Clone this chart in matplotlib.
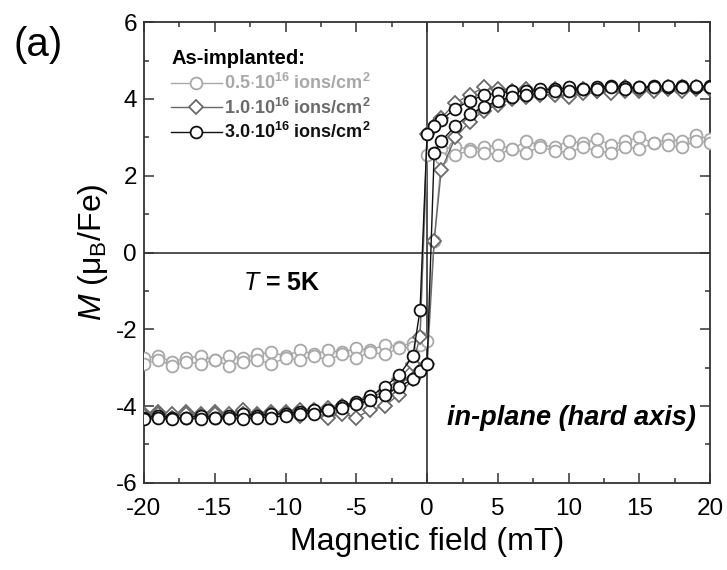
import matplotlib
matplotlib.use("Agg")
import matplotlib.pyplot as plt
from matplotlib.ticker import MultipleLocator

plt.rcParams['font.family'] = ['Liberation Sans', 'DejaVu Sans']
plt.rcParams['mathtext.fontset'] = 'custom'
plt.rcParams['mathtext.rm'] = 'Liberation Sans'
plt.rcParams['mathtext.it'] = 'Liberation Sans:italic'
plt.rcParams['mathtext.bf'] = 'Liberation Sans:bold'
plt.rcParams['mathtext.default'] = 'regular'
plt.rcParams['axes.unicode_minus'] = False

# field sweep: down from +20 mT, then back up from -20 mT
field_down = [20, 19, 18, 17, 16, 15, 14, 13, 12, 11, 10, 9, 8, 7, 6, 5, 4, 3, 2, 1,
              0.5, 0, -0.5, -1, -2, -3, -4, -5, -6, -7, -8, -9, -10, -11, -12, -13,
              -14, -15, -16, -17, -18, -19, -20]
field_up = [-20, -19, -18, -17, -16, -15, -14, -13, -12, -11, -10, -9, -8, -7, -6, -5,
            -4, -3, -2, -1, -0.5, 0, 0.5, 1, 2, 3, 4, 5, 6, 7, 8, 9, 10, 11, 12, 13,
            14, 15, 16, 17, 18, 19, 20]

# 0.5e16 ions/cm2
m05_down = [2.95, 3.05, 2.9, 2.95, 2.85, 3.0, 2.9, 2.8, 2.95, 2.85, 2.9, 2.75, 2.8, 2.9,
            2.7, 2.8, 2.75, 2.7, 2.75, 2.7, 2.6, 2.55, -2.2, -2.35, -2.45, -2.4, -2.55,
            -2.5, -2.6, -2.55, -2.65, -2.55, -2.7, -2.6, -2.65, -2.75, -2.7, -2.8, -2.7,
            -2.75, -2.85, -2.7, -2.75]
m05_up = [-2.9, -2.8, -2.95, -2.85, -2.9, -2.8, -2.95, -2.85, -2.8, -2.9, -2.75, -2.8,
          -2.7, -2.8, -2.65, -2.75, -2.6, -2.65, -2.5, -2.45, -2.4, -2.3, 0.3, 2.45,
          2.55, 2.65, 2.6, 2.55, 2.7, 2.6, 2.75, 2.65, 2.6, 2.75, 2.65, 2.6, 2.75, 2.7,
          2.85, 2.8, 2.75, 2.9, 2.85]

# 1.0e16 ions/cm2
m10_down = [4.25, 4.3, 4.2, 4.3, 4.25, 4.2, 4.3, 4.25, 4.2, 4.25, 4.2, 4.25, 4.2, 4.25,
            4.2, 4.25, 4.3, 4.1, 3.9, 3.5, 3.3, 3.1, -2.2, -2.9, -3.3, -3.6, -3.8, -3.95,
            -4.0, -4.05, -4.1, -4.1, -4.15, -4.15, -4.2, -4.1, -4.2, -4.15, -4.2, -4.15,
            -4.2, -4.15, -4.2]
m10_up = [-4.25, -4.2, -4.3, -4.2, -4.25, -4.2, -4.3, -4.2, -4.25, -4.2, -4.2, -4.25,
          -4.15, -4.3, -4.2, -4.3, -4.1, -4.0, -3.7, -3.3, -3.1, -2.9, 0.3, 2.15, 3.0,
          3.4, 3.7, 3.85, 4.0, 4.05, 4.1, 4.1, 4.05, 4.15, 4.2, 4.15, 4.2, 4.25, 4.2,
          4.25, 4.3, 4.25, 4.3]

# 3.0e16 ions/cm2
m30_down = [4.35, 4.3, 4.35, 4.3, 4.35, 4.3, 4.3, 4.35, 4.3, 4.25, 4.3, 4.25, 4.25, 4.2,
            4.2, 4.15, 4.1, 3.95, 3.75, 3.45, 3.3, 3.1, -1.5, -2.7, -3.2, -3.5, -3.75,
            -3.9, -4.0, -4.1, -4.1, -4.15, -4.2, -4.2, -4.25, -4.2, -4.25, -4.3, -4.25,
            -4.3, -4.3, -4.25, -4.3]
m30_up = [-4.35, -4.3, -4.35, -4.3, -4.35, -4.3, -4.3, -4.35, -4.3, -4.3, -4.25, -4.2,
          -4.2, -4.1, -4.05, -3.95, -3.85, -3.7, -3.5, -3.3, -3.1, -2.9, 2.6, 2.9, 3.3,
          3.6, 3.8, 3.95, 4.05, 4.1, 4.15, 4.2, 4.2, 4.25, 4.25, 4.3, 4.25, 4.3, 4.3,
          4.35, 4.3, 4.35, 4.3]

labels = [r'0.5$\cdot$10$^{16}$ ions/cm$^{2}$',
          r'1.0$\cdot$10$^{16}$ ions/cm$^{2}$',
          r'3.0$\cdot$10$^{16}$ ions/cm$^{2}$']
colors = ['#a8a8a8', '#6a6a6a', '#111111']
markers = ['o', 'D', 'o']
series = [(m05_down, m05_up), (m10_down, m10_up), (m30_down, m30_up)]

fig = plt.figure(figsize=(7.27, 5.70), dpi=100)
ax = fig.add_axes([0.198, 0.153, 0.779, 0.808])

ax.axhline(0, color='#222222', lw=1.1, zorder=1)
ax.axvline(0, color='#222222', lw=1.1, zorder=1)

for (down, up), lab, c, mk in zip(series, labels, colors, markers):
    ax.plot(field_down + field_up, down + up, color=c, marker=mk,
            markersize=8.5 if mk == 'o' else 7.5, markerfacecolor='white',
            markeredgecolor=c, markeredgewidth=1.3, lw=1.0, label=lab, zorder=3)

ax.set_xlim(-20, 20)
ax.set_ylim(-6, 6)
ax.xaxis.set_major_locator(MultipleLocator(5))
ax.xaxis.set_minor_locator(MultipleLocator(2.5))
ax.yaxis.set_major_locator(MultipleLocator(2))
ax.yaxis.set_minor_locator(MultipleLocator(1))
ax.tick_params(which='both', direction='in', top=True, right=True, labelsize=17.5,
               width=1.1, color='#333333')
ax.tick_params(axis='x', pad=11)
ax.tick_params(axis='y', pad=5)
ax.tick_params(which='major', length=7)
ax.tick_params(which='minor', length=3.5)
for s in ax.spines.values():
    s.set_linewidth(1.3)
    s.set_color('#333333')

ax.set_xlabel('Magnetic field (mT)', fontsize=23, labelpad=5)
ax.set_ylabel(r'$\it{M}$ ($\mu_{B}$/Fe)', fontsize=23, labelpad=4)

leg = ax.legend(loc='upper left', frameon=False, title='As-implanted:',
                prop={'weight': 'bold', 'size': 13}, handlelength=2.8,
                handletextpad=0.15, borderaxespad=0.9, labelspacing=0.25,
                borderpad=0.6)
leg.get_title().set_fontweight('bold')
leg.get_title().set_fontsize(14.5)
leg._legend_box.align = 'left'
for txt, c in zip(leg.get_texts(), colors):
    txt.set_color(c)

ax.text(-10.3, -0.8, r'$\it{T}$ = 5K', fontsize=18, fontweight='bold',
        ha='center', va='center')
ax.text(10.2, -4.3, 'in-plane (hard axis)', fontsize=19.5, fontweight='bold',
        fontstyle='italic', ha='center', va='center')
fig.text(0.052, 0.921, '(a)', fontsize=29, ha='center', va='center')

fig.savefig('out.png', dpi=100)
